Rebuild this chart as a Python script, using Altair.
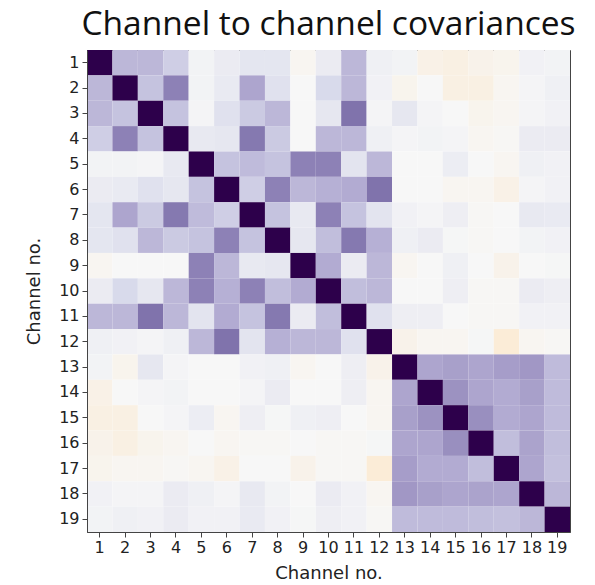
import altair as alt
import pandas as pd

channels = list(range(1, 20))

row_1 = [1, .35, .35, .25, .03, .08, .12, .12, -.02, .08, .35, .05, .03, -.05, -.06, -.04, -.03, .04, .03]
row_2 = [.35, 1, .3, .55, .03, .09, .42, .15, .0, .2, .35, .04, -.03, .0, -.06, -.06, -.02, .02, .05]
row_3 = [.35, .3, 1, .3, .02, .15, .27, .35, .0, .11, .6, .02, .11, .02, .0, -.03, -.02, .02, .04]
row_4 = [.25, .55, .3, 1, .1, .11, .58, .27, .0, .35, .35, .05, .02, .03, .02, -.02, -.01, .08, .08]
row_5 = [.03, .03, .02, .1, 1, .3, .33, .3, .55, .55, .13, .35, .0, .0, .07, .0, -.02, .05, .04]
row_6 = [.08, .09, .15, .11, .3, 1, .25, .55, .35, .38, .4, .6, .0, .0, -.02, -.02, -.05, .02, .04]
row_7 = [.12, .42, .27, .58, .33, .25, 1, .3, .1, .55, .3, .13, .04, .02, .06, -.01, .0, .1, .09]
row_8 = [.12, .15, .35, .27, .3, .55, .3, 1, .11, .32, .58, .38, .05, .08, .01, -.01, .0, .03, .04]
row_9 = [-.02, .0, .0, .0, .55, .35, .1, .11, 1, .4, .08, .35, -.02, .0, .05, .0, -.04, .0, .01]
row_10 = [.08, .2, .11, .35, .55, .38, .55, .32, .4, 1, .32, .35, .0, .0, .06, -.01, -.01, .08, .06]
row_11 = [.35, .35, .6, .35, .13, .4, .3, .58, .08, .32, 1, .15, .06, .06, .0, -.01, -.01, .04, .04]
row_12 = [.05, .04, .02, .05, .35, .6, .13, .38, .35, .35, .15, 1, -.04, -.02, -.02, .01, -.1, -.02, -.01]
row_13 = [.03, -.03, .11, .02, .0, .0, .04, .05, -.02, .0, .06, -.04, 1, .42, .44, .42, .45, .47, .33]
row_14 = [-.05, .0, .02, .03, .0, .0, .02, .08, .0, .0, .06, -.02, .42, 1, .49, .42, .4, .44, .33]
row_15 = [-.06, -.06, .0, .02, .07, -.02, .06, .01, .05, .06, .0, -.02, .44, .49, 1, .5, .4, .42, .33]
row_16 = [-.04, -.06, -.03, -.02, .0, -.02, -.01, -.01, .0, -.01, -.01, .01, .42, .42, .5, 1, .32, .43, .32]
row_17 = [-.03, -.02, -.02, -.01, -.02, -.05, .0, .0, -.04, -.01, -.01, -.1, .45, .4, .4, .32, 1, .42, .31]
row_18 = [.04, .02, .02, .08, .05, .02, .1, .03, .0, .08, .04, -.02, .47, .44, .42, .43, .42, 1, .35]
row_19 = [.03, .05, .04, .08, .04, .04, .09, .04, .01, .06, .04, -.01, .33, .33, .33, .32, .31, .35, 1]

rows = [row_1, row_2, row_3, row_4, row_5, row_6, row_7, row_8, row_9, row_10,
        row_11, row_12, row_13, row_14, row_15, row_16, row_17, row_18, row_19]

puor = ['#7f3b08', '#b35806', '#e08214', '#fdb863', '#fee0b6', '#f7f7f7',
        '#d8daeb', '#b2abd2', '#8073ac', '#542788', '#2d004b']

records = []
for i, r in zip(channels, rows):
    for j, v in zip(channels, r):
        records.append({"row": i, "col": j, "cov": v})
df = pd.DataFrame(records)

axis_common = dict(
    labelFont="DejaVu Sans", labelFontSize=16, labelColor="#222222",
    titleFont="DejaVu Sans", titleFontSize=18, titleFontWeight="normal", titleColor="#222222",
    domainColor="#444444", tickColor="#444444", tickSize=5, labelAngle=0, grid=False,
)

chart = alt.Chart(df).mark_rect().encode(
    x=alt.X("col:O", sort=channels, title="Channel no.",
            scale=alt.Scale(paddingInner=0, paddingOuter=0),
            axis=alt.Axis(labelPadding=2, titlePadding=9, **axis_common)),
    y=alt.Y("row:O", sort=channels, title="Channel no.",
            scale=alt.Scale(paddingInner=0, paddingOuter=0),
            axis=alt.Axis(labelPadding=3, titlePadding=15, **axis_common)),
    color=alt.Color("cov:Q", scale=alt.Scale(domain=[-1, 1], range=puor, interpolate="rgb"),
                    legend=None),
).properties(
    width=483, height=482,
    title=alt.TitleParams("Channel to channel covariances", font="Open Sans", fontSize=33.5,
                          fontWeight="normal", color="#111111", anchor="middle", offset=8),
    autosize=alt.AutoSizeParams(type="none"),
    padding={"left": 87, "top": 50, "right": 25, "bottom": 53},
).configure_view(stroke="#444444", strokeWidth=1)

chart.save("out.html", embed_options={"renderer": "svg", "actions": False})
